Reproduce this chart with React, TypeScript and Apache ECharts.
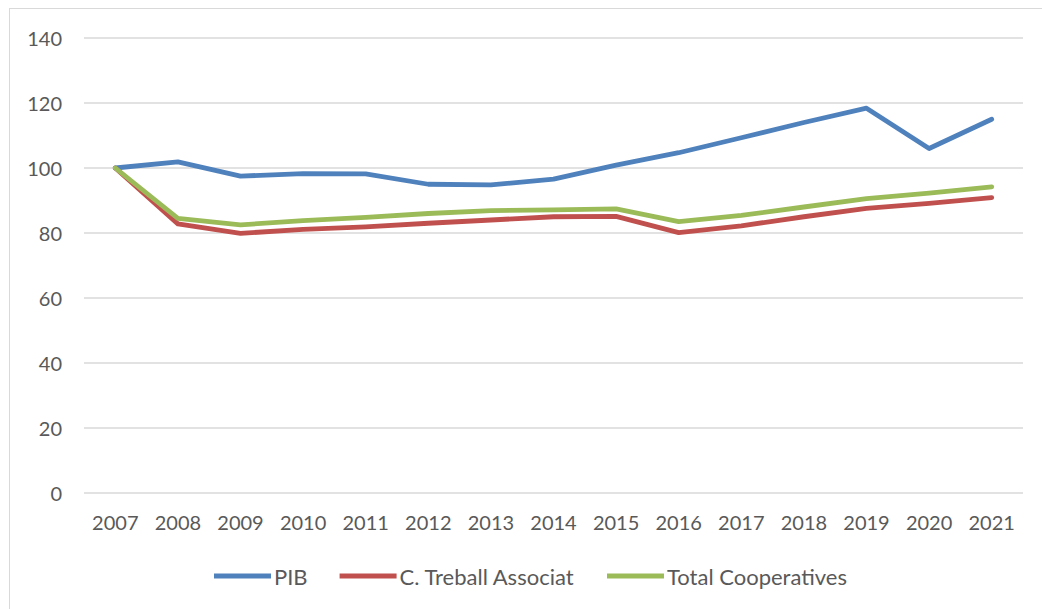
import React, { useEffect, useRef } from "react";
import * as echarts from "echarts";

const years = ["2007","2008","2009","2010","2011","2012","2013","2014","2015","2016","2017","2018","2019","2020","2021"];
const pib = [100, 101.9, 97.5, 98.3, 98.2, 95.0, 94.8, 96.6, 100.9, 104.7, 109.3, 114.0, 118.4, 106.0, 115.0];
const treball = [100, 82.8, 79.9, 81.1, 81.9, 83.0, 84.0, 85.0, 85.1, 80.1, 82.2, 85.0, 87.6, 89.1, 90.9];
const totalCoop = [100, 84.5, 82.5, 83.8, 84.8, 86.0, 86.9, 87.1, 87.4, 83.5, 85.4, 88.0, 90.6, 92.3, 94.2];
const yTicks = { min: 0, max: 140, interval: 20 };

export default function App() {
  const ref = useRef<HTMLDivElement>(null);
  useEffect(() => {
    const chart = echarts.init(ref.current!, null, { renderer: "svg" });
    const font = "Lato, 'Open Sans', sans-serif";
    const mk = (name: string, data: number[], color: string) => ({
      name,
      type: "line",
      data,
      showSymbol: false,
      symbol: "none",
      lineStyle: { color, width: 4.8, cap: "round", join: "round" },
      itemStyle: { color },
    });
    chart.setOption({
      animation: false,
      grid: { left: 84, right: 19, top: 38, bottom: 116 },
      xAxis: {
        type: "category",
        data: years,
        boundaryGap: true,
        axisLine: { show: false },
        axisTick: { show: false },
        axisLabel: { color: "#595959", fontSize: 20, fontFamily: font, margin: 19 },
      },
      yAxis: {
        type: "value",
        min: yTicks.min,
        max: yTicks.max,
        interval: yTicks.interval,
        axisLine: { show: false },
        axisTick: { show: false },
        axisLabel: { color: "#595959", fontSize: 20, fontFamily: font, margin: 22 },
        splitLine: { lineStyle: { color: "#d9d9d9", width: 1.5 } },
      },
      legend: {
        bottom: 17,
        left: 209,
        icon: "rect",
        itemWidth: 57,
        itemHeight: 5,
        itemGap: 32,
        textStyle: { color: "#595959", fontSize: 22, fontFamily: font, padding: [0, 0, 0, -2] },
        data: ["PIB", "C. Treball Associat", "Total Cooperatives"],
      },
      series: [
        mk("PIB", pib, "#4f81bd"),
        mk("C. Treball Associat", treball, "#c0504d"),
        mk("Total Cooperatives", totalCoop, "#9bbb59"),
      ],
    });
    return () => chart.dispose();
  }, []);
  return (
    <div style={{ position: "absolute", left: 0, top: 0, width: 1042, height: 609, background: "#fff" }}>
      <div style={{ position: "absolute", left: 9, top: 8, width: 1040, height: 610, border: "1px solid #d9d9d9", boxSizing: "border-box" }} />
      <div ref={ref} style={{ position: "absolute", left: 0, top: 0, width: 1042, height: 609 }} />
    </div>
  );
}
